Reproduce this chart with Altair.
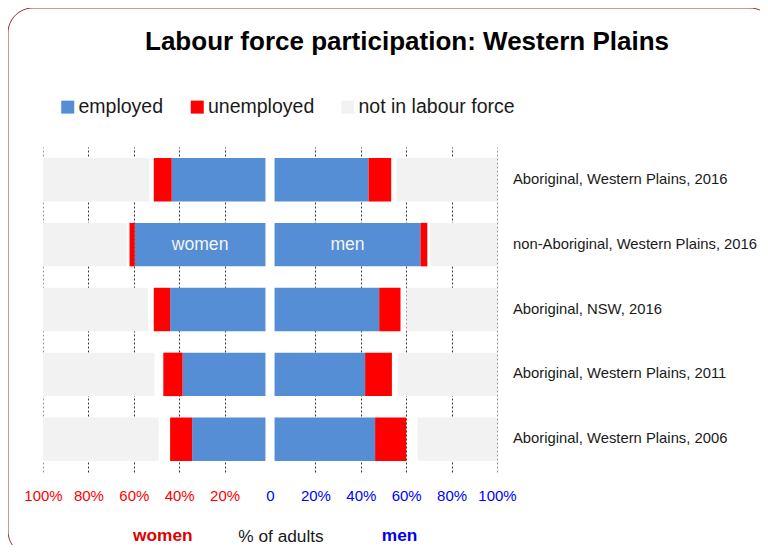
import altair as alt
import pandas as pd

# ---------------- data ----------------
rows = [
    "Aboriginal, Western Plains, 2016",
    "non-Aboriginal, Western Plains, 2016",
    "Aboriginal, NSW, 2016",
    "Aboriginal, Western Plains, 2011",
    "Aboriginal, Western Plains, 2006",
]
women_employed = [41.3, 57.6, 42.0, 36.5, 32.3]
women_unemployed = [7.9, 2.3, 7.2, 8.5, 9.7]
women_not_stated = [1.9, 1.3, 2.5, 3.9, 5.0]
women_not_in_lf = [46.9, 36.8, 46.3, 49.1, 51.0]

men_employed = [41.4, 64.3, 46.1, 39.9, 44.3]
men_unemployed = [10.0, 3.0, 9.4, 11.8, 13.7]
men_not_stated = [2.3, 1.3, 2.6, 2.5, 5.0]
men_not_in_lf = [44.3, 29.4, 39.9, 43.8, 35.0]

statuses = ["employed", "unemployed", "not in labour force"]
status_colors = ["#558ed5", "#ff0000", "#f2f2f2"]
tick_values = [-100, -80, -60, -40, -20, 0, 20, 40, 60, 80, 100]
centre_gap = 2.0  # blank space each side of the centre line (% units)

bottom_labels = ["women", "% of adults", "men"]
bottom_label_x = [-47.2, 4.4, 57.1]

FONT = "Liberation Sans, Arial, sans-serif"

# ---------------- build segments ----------------
recs = []
sides = [
    ("women", -1, [women_employed, women_unemployed, women_not_stated, women_not_in_lf]),
    ("men", 1, [men_employed, men_unemployed, men_not_stated, men_not_in_lf]),
]
seg_names = ["employed", "unemployed", "not stated", "not in labour force"]
for side, sign, arrs in sides:
    for i, r in enumerate(rows):
        start = centre_gap
        for name, vals in zip(seg_names, arrs):
            end = start + vals[i]
            if name != "not stated":
                recs.append(dict(row=r, side=side, status=name,
                                 x=sign * start, x2=sign * end, value=vals[i]))
            start = end
bars_df = pd.DataFrame(recs)

inbar = bars_df[(bars_df["row"] == rows[1]) & (bars_df["status"] == "employed")].copy()
inbar["x"] = (inbar["x"] + inbar["x2"]) / 2
inbar["label"] = inbar["side"]

xscale = alt.Scale(domain=[-100, 100], nice=False, zero=False)

border = alt.Chart(pd.DataFrame({"a": [0]})).mark_rect(
    cornerRadius=25, fill="transparent", stroke="#a52a2a", strokeWidth=1
).encode(
    x=alt.value(-35), x2=alt.value(732), y=alt.value(-139), y2=alt.value(409)
)

bars = alt.Chart(bars_df).mark_bar().encode(
    x=alt.X(
        "x:Q",
        scale=xscale,
        axis=alt.Axis(
            values=tick_values,
            domain=False,
            ticks=False,
            tickSize=0,
            grid=True,
            gridDash=[2, 2],
            gridWidth=1,
            gridColor={"condition": {"test": "abs(datum.value) == 100", "value": "#9a9a9a"},
                       "value": "#3a3a3a"},
            gridOpacity={"condition": {"test": "datum.value == 0", "value": 0}, "value": 1},
            labelExpr="datum.value == 0 ? '0' : abs(datum.value) + '%'",
            labelColor={"condition": {"test": "datum.value < 0", "value": "#ff0000"},
                        "value": "#0000ff"},
            labelFont=FONT,
            labelFontSize=15,
            labelFlush=False,
            labelOverlap=False,
            labelBound=False,
            labelBaseline="middle",
            labelPadding=23,
            title=bottom_labels[1],
            titleFont=FONT,
            titleFontSize=17.3,
            titleFontWeight="normal",
            titleColor="#1a1a1a",
            titleX=237.5,
            titleY=64,
            titleAlign="center",
            titleBaseline="middle",
        ),
    ),
    x2="x2:Q",
    y=alt.Y(
        "row:N",
        sort=rows,
        scale=alt.Scale(paddingInner=0.33, paddingOuter=0.17),
        axis=alt.Axis(
            orient="right",
            title=None,
            domain=False,
            ticks=False,
            tickSize=0,
            grid=False,
            labelFont=FONT,
            labelFontSize=14.8,
            labelColor="#1a1a1a",
            labelPadding=15.5,
            labelAlign="left",
            labelBaseline="middle",
            labelLimit=400,
        ),
    ),
    color=alt.Color(
        "status:N",
        scale=alt.Scale(domain=statuses, range=status_colors),
        legend=alt.Legend(
            orient="none",
            legendX=15,
            legendY=-50,
            direction="horizontal",
            title=None,
            symbolType="square",
            symbolSize=169,
            symbolStrokeWidth=0,
            symbolOpacity=1,
            labelFont=FONT,
            labelFontSize=19.5,
            labelColor="#1a1a1a",
            labelOffset=1,
            labelLimit=400,
            columnPadding=23.5,
            padding=0,
        ),
    ),
)

inbar_text = alt.Chart(inbar).mark_text(
    font=FONT, fontSize=17.6, color="#f4f4f4", baseline="middle", align="center"
).encode(
    x=alt.X("x:Q"),
    y=alt.Y("row:N", sort=rows),
    text="label:N",
)

bottom_df = pd.DataFrame({"x": [bottom_label_x[0], bottom_label_x[2]],
                          "label": [bottom_labels[0], bottom_labels[2]],
                          "col": ["#e00000", "#0000ee"]})
bottom_text = alt.Chart(bottom_df).mark_text(
    font=FONT, fontSize=17.3, fontWeight="bold", baseline="middle", align="center"
).encode(
    x=alt.X("x:Q"),
    y=alt.value(389),
    text="label:N",
    color=alt.Color("col:N", scale=None),
)

chart = alt.layer(border, bars, inbar_text, bottom_text).properties(
    width=454,
    height=325,
    autosize=alt.AutoSizeParams(type="none"),
    padding={"left": 35, "top": 139, "right": 263, "bottom": 73},
    background="white",
    title=alt.TitleParams(
        text="Labour force participation: Western Plains",
        font=FONT,
        fontSize=26,
        fontWeight="bold",
        color="#000000",
        anchor="middle",
        frame="group",
        baseline="alphabetic",
        offset=-68.5,
        dx=137,
    ),
).configure_view(stroke="transparent")

chart.save("out.html", embed_options={"renderer": "svg", "actions": False})
